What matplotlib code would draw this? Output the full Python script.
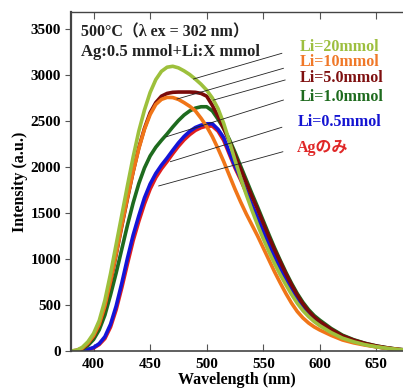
import matplotlib
matplotlib.use("Agg")
import matplotlib.pyplot as plt

wavelength = [380, 385, 390, 395, 400, 405, 410, 415, 420, 425, 430, 435, 440, 445,
              450, 455, 460, 465, 470, 475, 480, 485, 490, 495, 500, 505, 510, 515,
              520, 525, 530, 535, 540, 545, 550, 555, 560, 565, 570, 575, 580, 585,
              590, 595, 600, 610, 620, 630, 640, 650, 660, 670, 680]

ag_only = [0, 1, 6, 15, 32, 70, 135, 260, 450, 690, 950, 1200, 1410, 1600,
           1760, 1885, 1980, 2060, 2145, 2225, 2295, 2352, 2398, 2428, 2445, 2445, 2390, 2290,
           2140, 1990, 1860, 1720, 1575, 1435, 1290, 1145, 1015, 890, 770, 660, 560, 470,
           400, 342, 295, 215, 150, 106, 72, 46, 28, 14, 7]
li_0_5 = [0, 2, 8, 18, 38, 80, 155, 290, 490, 740, 1010, 1260, 1470, 1665,
          1815, 1930, 2020, 2098, 2182, 2262, 2332, 2388, 2430, 2455, 2470, 2470, 2410, 2320,
          2160, 2010, 1880, 1740, 1590, 1450, 1300, 1160, 1030, 900, 780, 670, 570, 480,
          410, 350, 300, 220, 155, 110, 75, 48, 29, 15, 7]
li_1_0 = [0, 4, 20, 60, 125, 230, 390, 610, 850, 1110, 1370, 1610, 1820, 1990,
          2120, 2215, 2290, 2360, 2435, 2505, 2565, 2610, 2640, 2655, 2655, 2610, 2520, 2420,
          2300, 2160, 2010, 1860, 1710, 1565, 1415, 1265, 1120, 985, 855, 735, 625, 530,
          450, 385, 335, 245, 172, 122, 84, 55, 34, 17, 8]
li_5_0 = [0, 5, 28, 80, 160, 285, 480, 750, 1050, 1360, 1660, 1950, 2210, 2420,
          2590, 2700, 2770, 2800, 2812, 2815, 2815, 2815, 2812, 2800, 2770, 2670, 2550, 2420,
          2280, 2130, 1980, 1830, 1680, 1540, 1390, 1240, 1100, 970, 840, 720, 610, 515,
          435, 370, 320, 235, 165, 118, 82, 54, 33, 17, 8]
li_10 = [0, 6, 30, 85, 165, 290, 490, 760, 1060, 1370, 1670, 1950, 2200, 2410,
         2570, 2680, 2735, 2757, 2755, 2735, 2700, 2660, 2610, 2530, 2440, 2330, 2200, 2060,
         1910, 1760, 1620, 1490, 1370, 1250, 1120, 990, 860, 740, 625, 520, 430, 360,
         305, 262, 228, 170, 120, 88, 64, 45, 28, 15, 8]
li_20 = [0, 8, 40, 100, 190, 330, 550, 840, 1160, 1480, 1800, 2110, 2390, 2620,
         2810, 2950, 3040, 3085, 3095, 3078, 3045, 3005, 2955, 2900, 2835, 2750, 2635, 2475,
         2280, 2075, 1880, 1700, 1530, 1370, 1220, 1080, 950, 830, 720, 615, 520, 440,
         375, 320, 275, 200, 140, 100, 68, 45, 28, 15, 7]

series_names = ["Agのみ", "Li=0.5mmol", "Li=1.0mmol", "Li=5.0mmol", "Li=10mmol", "Li=20mmol"]
series_values = [ag_only, li_0_5, li_1_0, li_5_0, li_10, li_20]
line_colors = ["#E01E1E", "#1414D8", "#1E6B1E", "#7A0A0A", "#F07518", "#9DC03C"]
text_colors = ["#E02828", "#1414D2", "#1E6B1E", "#7F1010", "#F07828", "#9DBF3F"]

# annotation anchors (curve point, line end, label point) in data units
anno_curve = [(457.6, 1794), (467.9, 2058), (464.4, 2329), (506.1, 2728), (473.8, 2739), (488.4, 2957)]
anno_line_end = [(567.3, 2166), (566.4, 2432), (567.8, 2728), (569.3, 2946), (567.8, 3073), (566.4, 3236)]
label_pos = [(579.6, 2203), (580.8, 2486), (582.5, 2764), (582.5, 2964), (582.5, 3145), (582.5, 3308)]

x_ticks = [400, 450, 500, 550, 600, 650]
y_ticks = [0, 500, 1000, 1500, 2000, 2500, 3000, 3500]

serif = ["Liberation Serif", "Noto Sans CJK JP", "DejaVu Sans"]

fig = plt.figure(figsize=(4.03, 3.91), dpi=100)
ax = fig.add_axes([0.176, 0.1023, 0.824, 0.8670])

for vals, c in zip(series_values, line_colors):
    ax.plot(wavelength, vals, color=c, lw=2.6, solid_capstyle="round", solid_joinstyle="round")

for (cx, cy), (ex, ey) in zip(anno_curve, anno_line_end):
    ax.plot([cx, ex], [cy, ey], color="#222222", lw=0.6)

for name, (lx, ly), tc in zip(series_names, label_pos, text_colors):
    ax.text(lx, ly, name, color=tc, fontsize=11.5, fontweight="bold",
            family=serif, ha="left", va="center")

ax.text(388.5, 3468, "500°C（λ ex = 302 nm）", fontsize=11.5, fontweight="bold",
        family=serif, ha="left", va="center", color="#222222")
ax.text(388.5, 3250, "Ag:0.5 mmol+Li:X mmol", fontsize=12, fontweight="bold",
        family=serif, ha="left", va="center", color="#222222")

ax.set_xlim(380, 673.5)
ax.set_ylim(0, 3685)
ax.set_xticks(x_ticks)
ax.set_yticks(y_ticks)
ax.set_xticklabels([str(t) for t in x_ticks], fontsize=11, fontweight="bold", family=serif)
ax.set_yticklabels([str(t) for t in y_ticks], fontsize=11, fontweight="bold", family=serif)
ax.tick_params(axis="x", direction="in", length=5, width=0.8, color="#555555",
               top=True, pad=5)
ax.tick_params(axis="y", direction="out", length=4, width=0.8, color="#555555", pad=3)
ax.spines["right"].set_visible(False)
for s in ["left", "bottom", "top"]:
    ax.spines[s].set_color("#444444")
ax.spines["left"].set_linewidth(1.6)
ax.spines["bottom"].set_linewidth(1.2)
ax.spines["top"].set_linewidth(1.0)

ax.set_xlabel("Wavelength (nm)", fontsize=11.5, fontweight="bold", family=serif, labelpad=1)
ax.set_ylabel("Intensity (a.u.)", fontsize=11.5, fontweight="bold", family=serif, labelpad=2)

fig.savefig("out.png", dpi=100)
